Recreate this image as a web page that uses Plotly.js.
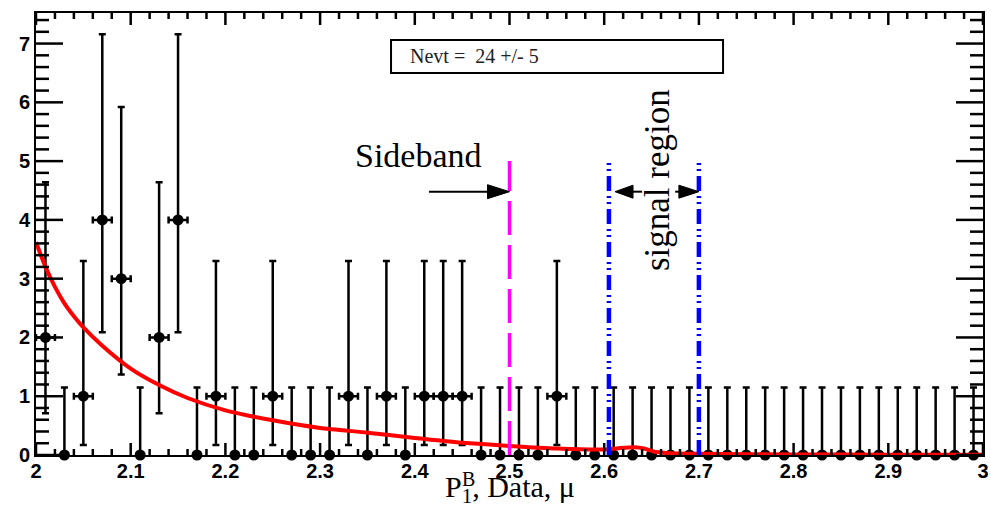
<!DOCTYPE html>
<html>
<head>
<meta charset="utf-8">
<script src="https://cdn.plot.ly/plotly-3.0.1.min.js"></script>
<style>
  html, body { margin: 0; padding: 0; background: #ffffff; }
  #plot { width: 991px; height: 508px; }
</style>
</head>
<body>
<div id="plot"></div>
<script>
// Bin centres (bin width 0.02) and event counts per bin
const binCenters = [
  2.01, 2.03, 2.05, 2.07, 2.09, 2.11, 2.13, 2.15, 2.17, 2.19,
  2.21, 2.23, 2.25, 2.27, 2.29, 2.31, 2.33, 2.35, 2.37, 2.39,
  2.41, 2.43, 2.45, 2.47, 2.49, 2.51, 2.53, 2.55, 2.57, 2.59,
  2.61, 2.63, 2.65, 2.67, 2.69, 2.71, 2.73, 2.75, 2.77, 2.79,
  2.81, 2.83, 2.85, 2.87, 2.89, 2.91, 2.93, 2.95, 2.97, 2.99
];
const counts = [
  2, 0, 1, 4, 3, 0, 2, 4, 0, 1,
  0, 0, 1, 0, 0, 0, 1, 0, 1, 0,
  1, 1, 1, 0, 0, 0, 0, 1, 0, 0,
  0, 0, 0, 0, 0, 0, 0, 0, 0, 0,
  0, 0, 0, 0, 0, 0, 0, 0, 0, 0
];
// Asymmetric Poisson errors, indexed by the count in the bin
const poissonUp   = [1.15, 2.30, 2.64, 2.92, 3.16];
const poissonDown = [0.00, 0.83, 1.29, 1.63, 1.91];
const binHalfWidth = 0.01;

// Background fit curve
const fitX = [2.000, 2.010, 2.020, 2.030, 2.040, 2.050, 2.070, 2.100, 2.130, 2.160,
              2.200, 2.250, 2.300, 2.350, 2.400, 2.450, 2.500, 2.550, 2.600, 2.615,
              2.632, 2.642, 2.652, 2.665, 2.700, 2.800, 2.900, 3.000];
const fitY = [3.62, 3.20, 2.86, 2.58, 2.36, 2.17, 1.86, 1.47, 1.19, 0.97,
              0.76, 0.59, 0.46, 0.38, 0.29, 0.21, 0.155, 0.11, 0.095, 0.115,
              0.13, 0.11, 0.06, 0.035, 0.02, 0.01, 0.006, 0.004];

// Axis ranges and tick spacing
const xRange = [2, 3];
const yRange = [0, 7.52];
const xMajor = 0.1, xMinorPerMajor = 5;
const yMajor = 1, yMinorPerMajor = 5;

// Region boundaries
const sidebandEdge = 2.5;
const signalLow = 2.605;
const signalHigh = 2.70;
const boundaryTop = 5;
const arrowLevel = 4.48;

const nevtLabel = 'Nevt =\u00a0\u00a024 +/- 5';

// Page geometry
const W = 991, H = 508;
const M = { l: 36, r: 8, t: 13, b: 53 };
const plotW = W - M.l - M.r, plotH = H - M.t - M.b;

// Split bins into filled and empty ones (empty bins carry no x error)
const filled = { x: [], y: [], up: [], down: [] };
const empty = { x: [], y: [], up: [], down: [] };
binCenters.forEach((c, i) => {
  const n = counts[i];
  const target = n > 0 ? filled : empty;
  target.x.push(c);
  target.y.push(n);
  target.up.push(poissonUp[n]);
  target.down.push(poissonDown[n]);
});

// Inward frame ticks: one separate two-point trace per tick
function frameTickTraces() {
  const out = [];
  const perPxX = (xRange[1] - xRange[0]) / plotW;
  const perPxY = (yRange[1] - yRange[0]) / plotH;
  const style = { color: '#000000', width: 2.5 };
  const add = (xs, ys) => out.push({ type: 'scatter', mode: 'lines', x: xs, y: ys,
    line: style, cliponaxis: false, hoverinfo: 'skip', showlegend: false });
  const xStep = xMajor / xMinorPerMajor;
  const nx = Math.round((xRange[1] - xRange[0]) / xStep);
  for (let k = 0; k <= nx; k++) {
    const v = xRange[0] + k * xStep;
    const len = ((k % xMinorPerMajor === 0) ? 12 : 6) * perPxY;
    add([v, v], [yRange[0], yRange[0] + len]);
    add([v, v], [yRange[1], yRange[1] - len]);
  }
  const yStep = yMajor / yMinorPerMajor;
  const ny = Math.floor((yRange[1] - yRange[0]) / yStep + 1e-9);
  for (let k = 0; k <= ny; k++) {
    const v = yRange[0] + k * yStep;
    const len = ((k % yMinorPerMajor === 0) ? 27 : 13) * perPxX;
    add([xRange[0], xRange[0] + len], [v, v]);
    add([xRange[1], xRange[1] - len], [v, v]);
  }
  return out;
}

const errStyle = { color: '#000000', thickness: 2.5, width: 3.5 };

const traces = [
  {
    type: 'scatter', mode: 'markers', x: filled.x, y: filled.y,
    marker: { color: '#000000', size: 11 },
    error_y: Object.assign({ type: 'data', symmetric: false, array: filled.up, arrayminus: filled.down }, errStyle),
    error_x: Object.assign({ type: 'constant', value: binHalfWidth }, errStyle),
    cliponaxis: false, hoverinfo: 'x+y'
  },
  {
    type: 'scatter', mode: 'markers', x: empty.x, y: empty.y,
    marker: { color: '#000000', size: 11 },
    error_y: Object.assign({ type: 'data', symmetric: false, array: empty.up, arrayminus: empty.down }, errStyle),
    cliponaxis: false, hoverinfo: 'x+y'
  },
  {
    type: 'scatter', mode: 'lines', x: fitX, y: fitY,
    line: { color: '#ff0000', width: 4, shape: 'spline', smoothing: 0.6 },
    cliponaxis: false, hoverinfo: 'skip'
  }
].concat(frameTickTraces());

const tickFont = { family: 'Liberation Sans, Arial, sans-serif', size: 20, color: '#000000', weight: 'bold' };
const serif = 'Liberation Serif, Times New Roman, serif';

function arrowHead(xTip, yTip, dir, len, half) {
  // filled triangle whose tip sits at (xTip, yTip); dir = +1 points right, -1 left
  const b = -dir * len;
  return {
    type: 'path', xref: 'x', yref: 'y', xsizemode: 'pixel', ysizemode: 'pixel',
    xanchor: xTip, yanchor: yTip,
    path: 'M0,0 L' + b + ',' + half + ' L' + b + ',' + (-half) + ' Z',
    fillcolor: '#000000', line: { color: '#000000', width: 1 }
  };
}

const layout = {
  width: W, height: H,
  margin: { l: M.l, r: M.r, t: M.t, b: M.b, pad: 0 },
  paper_bgcolor: '#ffffff', plot_bgcolor: '#ffffff',
  showlegend: false,
  xaxis: {
    range: xRange, tickmode: 'linear', tick0: xRange[0], dtick: xMajor, ticks: '',
    showline: true, linewidth: 2, linecolor: '#000000', mirror: true,
    showgrid: false, zeroline: false, tickfont: tickFont, ticklabelstandoff: -3
  },
  yaxis: {
    range: yRange, tickmode: 'linear', tick0: 0, dtick: yMajor, ticks: '',
    showline: true, linewidth: 2, linecolor: '#000000', mirror: true,
    showgrid: false, zeroline: false, tickfont: tickFont
  },
  shapes: [
    // sideband boundary
    { type: 'line', xref: 'x', yref: 'y', x0: sidebandEdge, x1: sidebandEdge, y0: 0, y1: boundaryTop,
      line: { color: '#ff00ff', width: 3.5, dash: '34px,10px' } },
    // signal region boundaries
    { type: 'line', xref: 'x', yref: 'y', x0: signalLow, x1: signalLow, y0: 0, y1: boundaryTop,
      line: { color: '#0000ff', width: 4.5, dash: '15px,5px,2px,4px,2px,5px' } },
    { type: 'line', xref: 'x', yref: 'y', x0: signalHigh, x1: signalHigh, y0: 0, y1: boundaryTop,
      line: { color: '#0000ff', width: 4.5, dash: '15px,5px,2px,4px,2px,5px' } },
    // arrows
    { type: 'line', xref: 'x', yref: 'y', x0: 2.415, x1: 2.49, y0: arrowLevel, y1: arrowLevel,
      line: { color: '#000000', width: 2 } },
    arrowHead(sidebandEdge, arrowLevel, 1, 22, 7),
    { type: 'line', xref: 'x', yref: 'y', x0: 2.62, x1: 2.640, y0: arrowLevel, y1: arrowLevel,
      line: { color: '#000000', width: 2 } },
    arrowHead(2.6114, arrowLevel, -1, 18, 6.5),
    { type: 'line', xref: 'x', yref: 'y', x0: 2.675, x1: 2.69, y0: arrowLevel, y1: arrowLevel,
      line: { color: '#000000', width: 2 } },
    arrowHead(signalHigh, arrowLevel, 1, 20, 6.5),
    // event count box
    { type: 'rect', xref: 'paper', yref: 'paper', x0: 0.3749, x1: 0.7255, y0: 0.8643, y1: 0.9389,
      fillcolor: '#ffffff', line: { color: '#000000', width: 2 } }
  ],
  annotations: [
    { xref: 'paper', yref: 'paper', x: 0.3928, y: 0.9016, xanchor: 'left', yanchor: 'middle',
      text: nevtLabel, showarrow: false, font: { family: serif, size: 20, color: '#222222' } },
    { xref: 'x', yref: 'y', x: 2.4035, y: 5.10, xanchor: 'center', yanchor: 'middle',
      text: 'Sideband', showarrow: false, font: { family: serif, size: 34, color: '#000000' } },
    { xref: 'x', yref: 'y', x: 2.657, y: 4.68, xanchor: 'center', yanchor: 'middle', textangle: -90,
      text: 'signal region', showarrow: false, font: { family: serif, size: 35, color: '#000000' } },
    { xref: 'paper', yref: 'paper', x: 0.4298, y: -0.078, xanchor: 'left', yanchor: 'middle',
      text: 'P<sub>1</sub>, Data, μ', showarrow: false, font: { family: serif, size: 30, color: '#000000' } },
    { xref: 'paper', yref: 'paper', x: 0.4478, y: -0.0545, xanchor: 'left', yanchor: 'middle',
      text: 'B', showarrow: false, font: { family: serif, size: 20, color: '#000000' } }
  ]
};

Plotly.newPlot('plot', traces, layout, { staticPlot: true, displayModeBar: false });
</script>
</body>
</html>
